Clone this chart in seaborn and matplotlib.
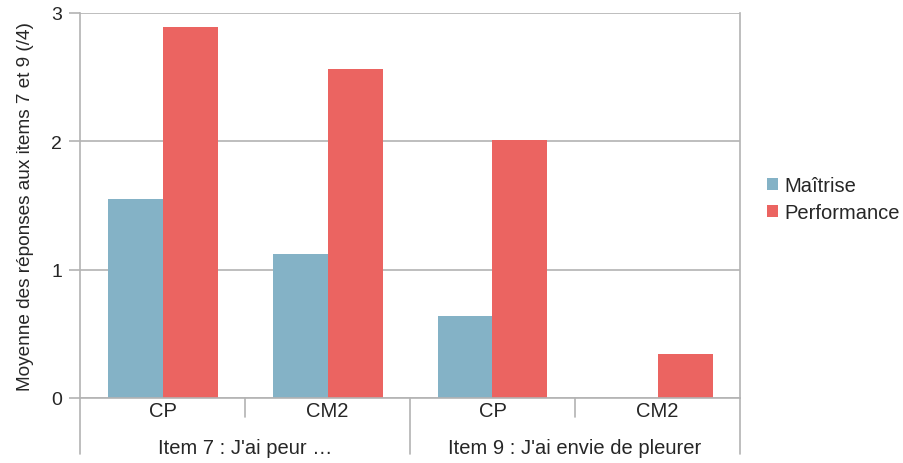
import matplotlib
matplotlib.use("Agg")
import matplotlib.pyplot as plt
import seaborn as sns
import pandas as pd
from matplotlib.patches import Patch
from matplotlib.lines import Line2D

items = ["Item 7 : J'ai peur …", "Item 9 : J'ai envie de pleurer"]
levels = ["CP", "CM2"]
series = ["Maîtrise", "Performance"]
maitrise = [1.55, 1.12, 0.64, 0.0]
performance = [2.89, 2.56, 2.01, 0.34]
colors = ["#84b2c6", "#eb6461"]

cats = [f"{it}|{lv}" for it in items for lv in levels]
df = pd.DataFrame({
    "cat": cats * 2,
    "value": maitrise + performance,
    "series": [series[0]] * 4 + [series[1]] * 4,
})

sns.set_style("white")
plt.rcParams["font.family"] = ["Liberation Sans", "DejaVu Sans"]
grey = "#b3b3b3"

fig = plt.figure(figsize=(9.04, 4.64), dpi=100)
W, H = 904, 464
ax = fig.add_axes([80 / W, (H - 399) / H, 660 / W, 385 / H])
sns.barplot(data=df, x="cat", y="value", hue="series", order=cats,
            hue_order=series, palette=colors, width=2 / 3, saturation=1,
            ax=ax, legend=False, edgecolor="none")
ax.set_xlim(-0.5, 3.5)
ax.set_ylim(0, 3)
ax.set_yticks([0, 1, 2, 3])
ax.set_yticklabels(["0", "1", "2", "3"], fontsize=14)
ax.yaxis.grid(True, color=grey, linewidth=1.2)
ax.set_axisbelow(True)
ax.tick_params(axis="y", length=8, color=grey, width=1.2, pad=5, left=True)
ax.tick_params(axis="x", length=0, labelbottom=False)
ax.set_xlabel("")
ax.set_ylabel("Moyenne des réponses aux items 7 et 9 (/4)", fontsize=13.7, labelpad=12)
ax.spines["top"].set_visible(False)
for s in ["left", "right", "bottom"]:
    ax.spines[s].set_color(grey)
    ax.spines[s].set_linewidth(1.2)

tr = ax.get_xaxis_transform()
for x in [0.5, 2.5]:
    ax.add_line(Line2D([x, x], [0, -19 / 385], transform=tr, color=grey, lw=1.2, clip_on=False))
for x in [-0.5, 1.5, 3.5]:
    ax.add_line(Line2D([x, x], [0, -56 / 385], transform=tr, color=grey, lw=1.2, clip_on=False))
for i, c in enumerate(cats):
    ax.text(i, -13 / 385, c.split("|")[1], transform=tr, ha="center", va="center", fontsize=14.5)
for j, it in enumerate(items):
    ax.text(2 * j + 0.5, -50 / 385, it, transform=tr, ha="center", va="center", fontsize=14.5)

handles = [Patch(facecolor=colors[k], edgecolor="none", label=series[k]) for k in range(2)]
fig.legend(handles=handles, loc="center left", bbox_to_anchor=(753 / W, 1 - 200 / H),
           frameon=False, fontsize=14.5, handlelength=0.55, handleheight=0.55,
           handletextpad=0.3, labelspacing=0.4, borderpad=0.2)

fig.savefig("out.png", dpi=100)
